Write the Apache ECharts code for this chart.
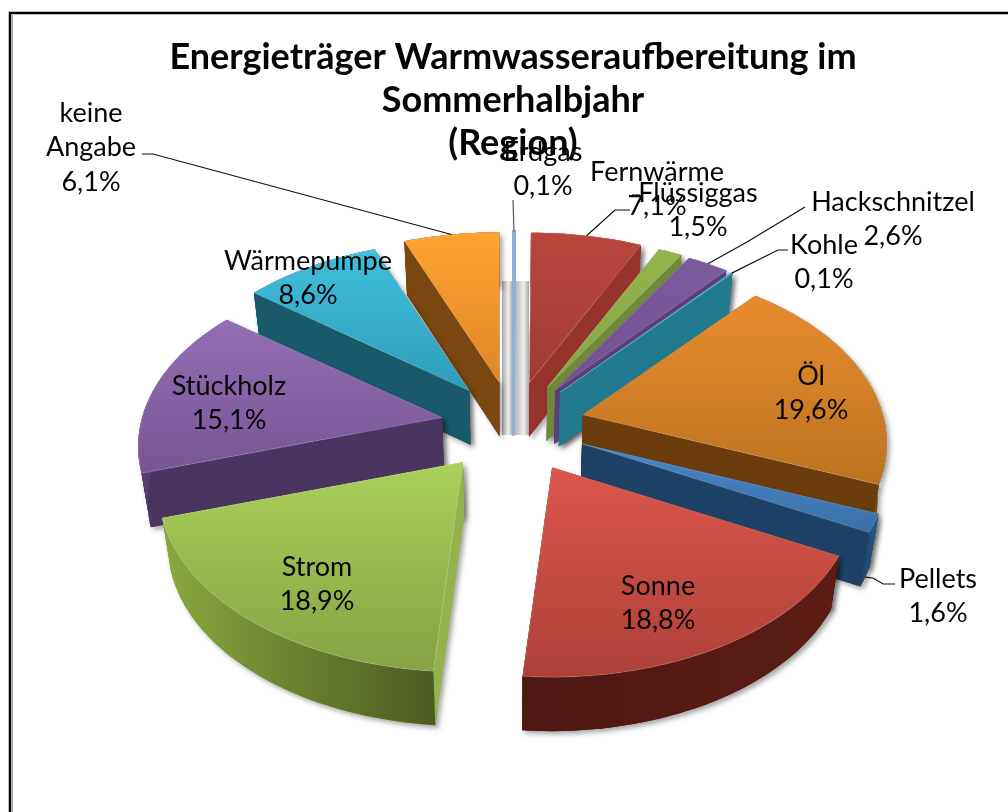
<!DOCTYPE html>
<html>
<head>
<meta charset="utf-8">
<style>
  html, body { margin: 0; padding: 0; background: #fff; }
  #chart { width: 1008px; height: 812px; }
</style>
<script src="https://cdn.jsdelivr.net/npm/echarts@6/dist/echarts.min.js"></script>
</head>
<body>
<div id="chart"></div>
<script>
const names = ['Erdgas', 'Fernwärme', 'Flüssiggas', 'Hackschnitzel', 'Kohle', 'Öl', 'Pellets', 'Sonne', 'Strom', 'Stückholz', 'Wärmepumpe', 'keine\nAngabe']
const values = [0.1, 7.1, 1.5, 2.6, 0.1, 19.6, 1.6, 18.8, 18.9, 15.1, 8.6, 6.1]

// Farben: Oberseite (oben/unten), Seitenwand, Rand (links/rechts)
const topColors = [['#9dbde0', '#8fb0d6'], ['#b9463d', '#a23a32'], ['#93b44c', '#86a444'], ['#7d5b9f', '#6e5090'], ['#3fa6c4', '#3497b3'], ['#e88c2e', '#bd7220'], ['#4a88c8', '#3a70a8'], ['#dc574c', '#ad4037'], ['#abd05a', '#86a244'], ['#936eb6', '#775694'], ['#40bfde', '#2e9cb8'], ['#ffa431', '#df8728']]
const sideColors = ['#8fb0d6', '#96332b', '#708a38', '#5a3f78', '#21798e', '#6b3c0c', '#1e4266', '#541a15', '#95b34c', '#4a3560', '#195a6a', '#7a4710']
const rimColors = [['#8fb0d6', '#8fb0d6'], ['#96332b', '#96332b'], ['#708a38', '#708a38'], ['#5a3f78', '#5a3f78'], ['#21798e', '#21798e'], ['#6b3c0c', '#7c4a12'], ['#1e4266', '#2a5a88'], ['#4e1713', '#5c1c16'], ['#8aa83f', '#4b5a1f'], ['#5a4072', '#4a3560'], ['#195a6a', '#195a6a'], ['#7a4710', '#7a4710']]

// Beschriftung: Mitte x, y der ersten Zeile
const labelSpots = [[543, 152], [657, 172], [698, 193], [893, 202], [824, 245], [811, 376], [938, 579], [658, 586], [317, 567], [229, 386], [308, 261], [91, 113]]
// Führungslinien, der letzte Punkt kommt vom Rand des Segments
const leaderBends = {
  0: [[513, 200]],
  1: [[630, 210], [615, 210]],
  3: [[805, 207], [747, 242]],
  4: [[788, 250], [778, 250]],
  6: [[895, 584], [883, 584], [873, 578]],
  11: [[142, 154], [153, 154]]
}

const CX = 513
const CY = 425
const R = 300
const TILT = 0.6
const EXPLODE = 72
const WALL = 54
const PERSP = 0.165
const FRONT_GROW = 0.14
const SHRINK = 0.975

const total = values.reduce((a, b) => a + b, 0)

function sliceAngles(i) {
  let before = 0
  for (let k = 0; k < i; k++) before += values[k]
  const start = before / total * Math.PI * 2
  const end = (before + values[i]) / total * Math.PI * 2
  return { start, end, mid: (start + end) / 2 }
}

function topPoint(a, r, mid) {
  // vordere Segmente ruecken etwas weiter nach aussen
  const grow = 1 + FRONT_GROW * Math.max(0, -Math.cos(mid))
  const ox = EXPLODE * Math.sin(mid) * grow
  const oy = -EXPLODE * Math.cos(mid) * TILT * grow
  const y = -Math.cos(a) * r / R
  const p = 1 + PERSP * y
  return [CX + ox + r * Math.sin(a) * p, CY + oy + r * -Math.cos(a) * TILT * p]
}

function downPoint(pt) {
  return [CX + (pt[0] - CX) * SHRINK, pt[1] + WALL]
}

function vGrad(c) {
  return new echarts.graphic.LinearGradient(0, 0, 0, 1, [{ offset: 0, color: c[0] }, { offset: 1, color: c[1] }])
}

function hGrad(c) {
  return new echarts.graphic.LinearGradient(0, 0, 1, 0, [{ offset: 0, color: c[0] }, { offset: 1, color: c[1] }])
}

const SHADOW = { shadowBlur: 5, shadowColor: 'rgba(0,0,0,0.35)', shadowOffsetX: 3, shadowOffsetY: 3 }

function renderSlice(params, api) {
  const i = api.value(0)
  const { start, end, mid } = sliceAngles(i)
  const depth = Math.round((1 - Math.cos(mid)) * 100) * 4 + 10
  const tip = topPoint(mid, 0, mid)
  const rim = []
  const steps = Math.max(2, Math.ceil((end - start) / 0.03))
  for (let k = 0; k <= steps; k++) {
    rim.push(topPoint(start + (end - start) * k / steps, R, mid))
  }
  const rimDown = rim.map(downPoint)
  const tipDown = downPoint(tip)
  const children = []

  const walls = [
    [[tip, rim[0], rimDown[0], tipDown], sideColors[i]],
    [[tip, rim[rim.length - 1], rimDown[rimDown.length - 1], tipDown], sideColors[i]],
    [rim.concat(rimDown.slice().reverse()), hGrad(rimColors[i])]
  ]
  // erst die Schatten, dann die Flaechen, sonst liegen Schatten auf dem eigenen Segment
  walls.forEach(w => {
    if (i !== 0) {
      children.push({
        type: 'polygon', z2: depth, shape: { points: w[0] },
        style: Object.assign({ fill: sideColors[i] }, SHADOW)
      })
    }
    children.push({
      type: 'polygon', z2: depth + 1, shape: { points: w[0] },
      // Erdgas ist so schmal, dass nur die Kontur sichtbar bleibt
      style: i === 0 ? { fill: '#8fb0d6', stroke: '#8fb0d6', lineWidth: 2.4 } : { fill: w[1] }
    })
  })

  children.push({
    type: 'polygon', z2: depth + 2, shape: { points: [tip].concat(rim) },
    style: i === 0
      ? { fill: '#8fb0d6', stroke: '#8fb0d6', lineWidth: 2.4 }
      : { fill: vGrad(topColors[i]), stroke: 'rgba(255,255,255,0.18)', lineWidth: 1 }
  })

  if (leaderBends[i]) {
    let anchor = topPoint(mid, R, mid)
    if (i === 6) anchor = downPoint(anchor)
    children.push({
      type: 'polyline', z2: 1700, shape: { points: leaderBends[i].concat([anchor]) },
      style: { fill: null, stroke: i === 0 ? '#555' : '#111', lineWidth: 1.2 }
    })
  }

  const pct = values[i].toFixed(1).replace('.', ',') + '%'
  children.push({
    type: 'text', z2: 1800,
    style: {
      x: labelSpots[i][0], y: labelSpots[i][1] - 17,
      text: names[i] + '\n' + pct,
      textAlign: 'center', textVerticalAlign: 'top',
      font: '27px Lato, sans-serif', lineHeight: 34.5, fill: '#050505'
    }
  })
  return { type: 'group', children }
}

const myChart = echarts.init(document.getElementById('chart'), null, { renderer: 'canvas' })
myChart.setOption({
  backgroundColor: '#fff',
  animation: false,
  title: {
    text: 'Energieträger Warmwasseraufbereitung im\nSommerhalbjahr\n(Region)',
    left: 508,
    top: 31,
    textAlign: 'center',
    textStyle: { fontFamily: 'Lato, sans-serif', fontWeight: 'bold', fontSize: 36, lineHeight: 43, color: '#050505' }
  },
  graphic: [
    // Rahmen
    { type: 'polyline', silent: true, shape: { points: [[10, 812], [10, 13], [1008, 13]] }, style: { fill: null, stroke: '#000', lineWidth: 2.5 } },
    { type: 'line', silent: true, shape: { x1: 12.5, y1: 15, x2: 12.5, y2: 812 }, style: { stroke: '#999', lineWidth: 1 } },
    // Schatten hinter dem schmalen Erdgas-Segment
    {
      type: 'rect', silent: true, z: 1, shape: { x: 502, y: 281, width: 27, height: 154 },
      style: {
        fill: new echarts.graphic.LinearGradient(0, 0, 1, 0, [
          { offset: 0, color: '#aaaaaa' }, { offset: 0.12, color: '#d0d0d0' }, { offset: 0.24, color: '#f0f0f0' },
          { offset: 0.38, color: '#aaaaaa' }, { offset: 0.6, color: '#c8c8c8' }, { offset: 0.8, color: '#f0f0f0' },
          { offset: 1, color: '#aaaaaa' }
        ])
      }
    },
    { type: 'line', silent: true, z: 3, shape: { x1: 632, y1: 195, x2: 640, y2: 195 }, style: { stroke: '#111', lineWidth: 1.2 } }
  ],
  series: [{
    type: 'custom',
    coordinateSystem: 'none',
    silent: true,
    clip: false,
    renderItem: renderSlice,
    data: values.map((v, i) => [i, v])
  }]
})
window.addEventListener('resize', () => { myChart.resize() })
</script>
</body>
</html>
